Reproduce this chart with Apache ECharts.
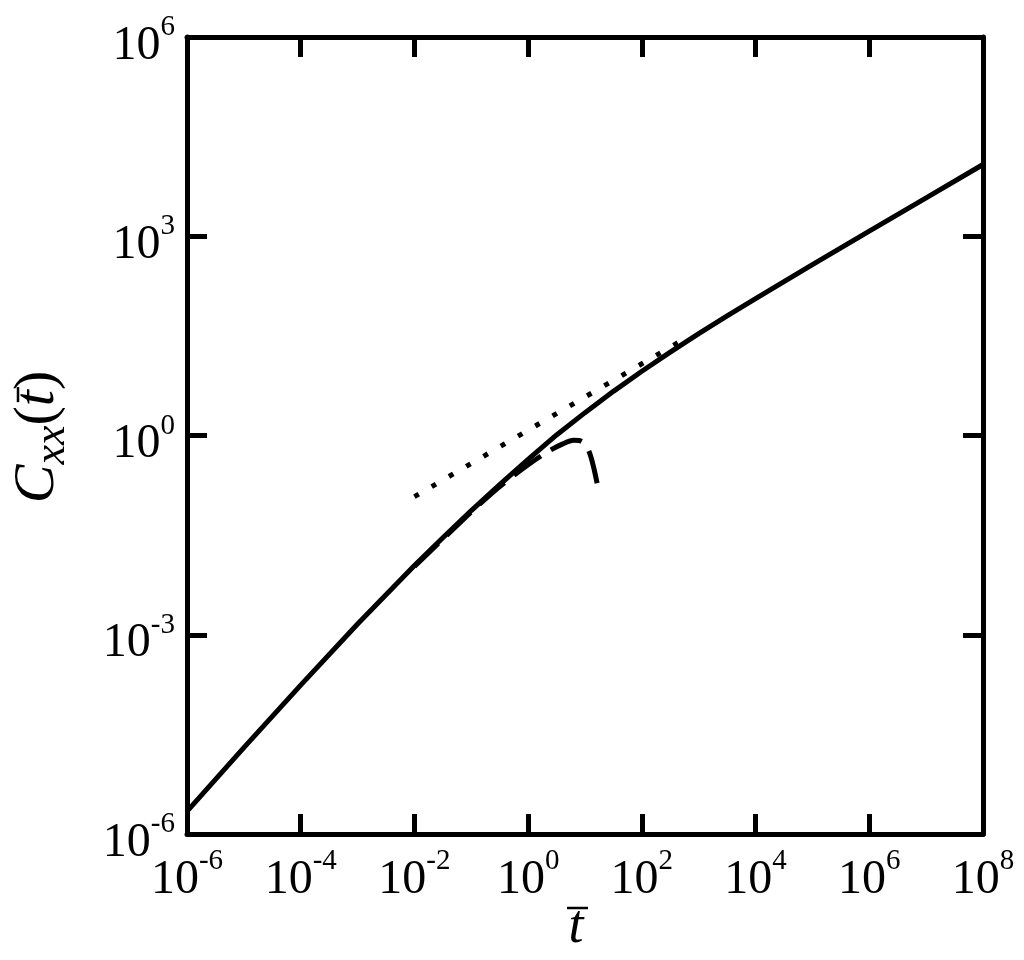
<!DOCTYPE html>
<html>
<head>
<meta charset="utf-8">
<script src="https://cdn.jsdelivr.net/npm/echarts@6/dist/echarts.min.js"></script>
<style>
  html, body { margin: 0; padding: 0; background: #fff; }
  #chart { width: 1024px; height: 960px; }
</style>
</head>
<body>
<div id="chart"></div>
<script>
// full correlation C_xx(t)
const solidT = [1e-6, 1e-5, 1e-4, 1e-3, 1e-2, 0.0316, 0.1, 0.316, 1, 3.16, 10, 31.6, 100, 316, 1000, 3162, 1e4, 1e5, 1e6, 1e7, 1e8]
const solidC = [2.19e-6, 2.0e-5, 1.74e-4, 1.45e-3, 1.10e-2, 2.88e-2, 7.41e-2, 0.182, 0.437, 1.02, 2.21, 4.62, 9.29, 18.0, 34.1, 63.1, 115, 374, 1194, 3793, 12023]

// short-time expansion (dashed)
const dashT = [0.01, 0.0316, 0.1, 0.316, 1, 2.24, 3.98, 6.31, 7.94, 10, 12.0, 14.1, 17.0]
const dashC = [0.0107, 0.0275, 0.0708, 0.170, 0.363, 0.575, 0.741, 0.851, 0.841, 0.741, 0.550, 0.339, 0.162]

// long-time asymptote (dotted)
const dotT = [0.01, 500]
const dotC = [0.12, 26.9]

const serif = 'Liberation Serif'
const pair = (xs, ys) => xs.map((x, i) => [x, ys[i]])

const tickRich = {
  b: { fontFamily: serif, fontSize: 48, color: '#000', lineHeight: 66 },
  e: { fontFamily: serif, fontSize: 29, color: '#000', lineHeight: 28, verticalAlign: 'top' }
}
const powLabel = v => '{b|10}{e|' + Math.round(Math.log10(v)) + '}'

const frame = { show: true, onZero: false, lineStyle: { color: '#000', width: 5 } }
const ticks = { show: true, inside: true, length: 20, lineStyle: { color: '#000', width: 5 } }

// y-axis title pieces: C, subscript xx, (t) with a bar over t
const fBig = 'italic 58px "Liberation Serif"'
const fSub = 'italic 44px "Liberation Serif"'
const fPar = '58px "Liberation Serif"'
const ctx = document.createElement('canvas').getContext('2d')
const textW = (s, font) => { ctx.font = font; return ctx.measureText(s).width }
const pieces = [
  { s: 'C', font: fBig, dy: 0 },
  { s: 'xx', font: fSub, dy: 14 },
  { s: '(', font: fPar, dy: 0 },
  { s: 't', font: fBig, dy: 0 },
  { s: ')', font: fPar, dy: 0 }
]
let cursor = -pieces.reduce((a, p) => a + textW(p.s, p.font), 0) / 2
const yTitle = []
let tBar = null
pieces.forEach(p => {
  const w = textW(p.s, p.font)
  yTitle.push({ type: 'text', x: cursor, y: p.dy, style: { text: p.s, font: p.font, fill: '#000', align: 'left', verticalAlign: 'middle' } })
  if (p.s === 't') tBar = { x1: cursor + 0.25 * w, x2: cursor + w + 3 }
  cursor += w
})
yTitle.push({ type: 'line', shape: { x1: tBar.x1, y1: -20, x2: tBar.x2, y2: -20 }, style: { stroke: '#000', lineWidth: 2.5 } })

const chart = echarts.init(document.getElementById('chart'))

chart.setOption({
  animation: false,
  backgroundColor: '#fff',
  grid: { left: 187, right: 41, top: 37, bottom: 126 },
  xAxis: [
    {
      type: 'log', logBase: 10, min: 1e-6, max: 1e8, interval: 2,
      axisLine: frame, axisTick: ticks, splitLine: { show: false },
      axisLabel: { margin: 13, formatter: powLabel, rich: tickRich, showMinLabel: true, showMaxLabel: true }
    },
    {
      type: 'log', logBase: 10, min: 1e-6, max: 1e8, interval: 2, position: 'top',
      axisLine: frame, axisTick: ticks, splitLine: { show: false }, axisLabel: { show: false }
    }
  ],
  yAxis: [
    {
      type: 'log', logBase: 10, min: 1e-6, max: 1e6, interval: 3,
      axisLine: frame, axisTick: ticks, splitLine: { show: false },
      axisLabel: { margin: 12, formatter: powLabel, rich: tickRich, padding: [18, 0, 0, 0], showMinLabel: true, showMaxLabel: true }
    },
    {
      type: 'log', logBase: 10, min: 1e-6, max: 1e6, interval: 3, position: 'right',
      axisLine: frame, axisTick: ticks, splitLine: { show: false }, axisLabel: { show: false }
    }
  ],
  graphic: [
    { type: 'group', x: 38, y: 437, rotation: Math.PI / 2, children: yTitle },
    {
      type: 'text', x: 576, y: 928,
      style: { text: 't', font: 'italic 54px "Liberation Serif"', fill: '#000', align: 'center', verticalAlign: 'middle' }
    },
    {
      type: 'line',
      shape: { x1: 567, y1: 908, x2: 588, y2: 908 },
      style: { stroke: '#000', lineWidth: 2.5 }
    }
  ],
  series: [
    {
      type: 'line', data: pair(dotT, dotC), showSymbol: false, symbol: 'none',
      lineStyle: { color: '#000', width: 5, type: [5, 15], cap: 'butt' }
    },
    {
      type: 'line', data: pair(dashT, dashC), showSymbol: false, symbol: 'none', smooth: 0.3,
      lineStyle: { color: '#000', width: 5, type: [33, 12] }
    },
    {
      type: 'line', data: pair(solidT, solidC), showSymbol: false, symbol: 'none',
      lineStyle: { color: '#000', width: 5, join: 'round' }
    }
  ]
})
</script>
</body>
</html>
